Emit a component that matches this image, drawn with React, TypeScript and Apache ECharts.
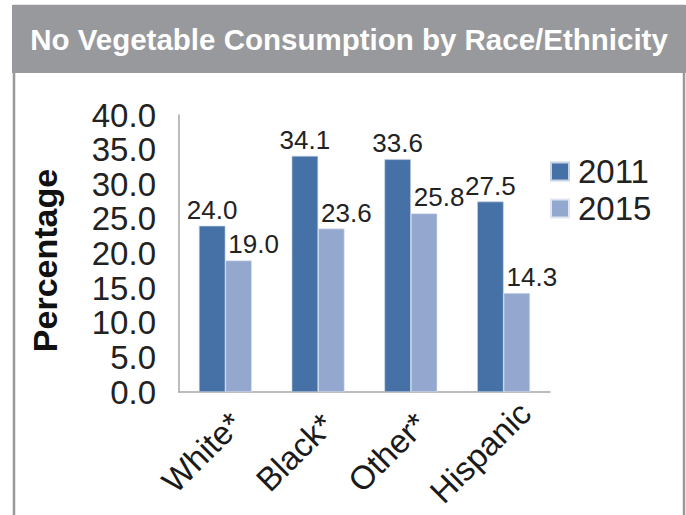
import React, { useEffect, useRef } from "react";
import * as echarts from "echarts";

const categories = ["White*", "Black*", "Other*", "Hispanic"];
const series2011 = [24.0, 34.1, 33.6, 27.5];
const series2015 = [19.0, 23.6, 25.8, 14.3];
const seriesNames = ["2011", "2015"];
const yTicks = { min: 0, max: 40, interval: 5 };

const FONT = "'Liberation Sans', Arial, sans-serif";
const FRAME_GRAY = "#98999c";

export default function App() {
  const ref = useRef<HTMLDivElement>(null);

  useEffect(() => {
    document.body.style.margin = "0";
    if (!ref.current) return;
    const chart = echarts.init(ref.current, null, { renderer: "svg" });

    const labelStyle = (offsetX: number) => ({
      show: true,
      position: "top" as const,
      distance: 3,
      offset: [offsetX, 0],
      fontFamily: FONT,
      fontSize: 26,
      color: "#222",
      formatter: (p: any) => Number(p.value).toFixed(1),
    });

    chart.setOption({
      animation: false,
      backgroundColor: "#ffffff",
      textStyle: { fontFamily: FONT },
      graphic: [
        {
          type: "rect",
          shape: { x: 14, y: 6, width: 670, height: 520 },
          style: { fill: "#ffffff", stroke: FRAME_GRAY, lineWidth: 2.5 },
          z: -10,
        },
        {
          type: "rect",
          shape: { x: 12, y: 5, width: 674, height: 68 },
          style: { fill: FRAME_GRAY },
          z: -9,
        },
        {
          type: "text",
          x: 349,
          y: 39,
          style: {
            text: "No Vegetable Consumption by Race/Ethnicity",
            fill: "#ffffff",
            font: `bold 29.5px ${FONT}`,
            align: "center",
            verticalAlign: "middle",
          },
          z: 5,
        },
      ],
      grid: {
        left: 179,
        right: 136,
        top: 115,
        bottom: 123,
        containLabel: false,
        outerBoundsMode: "none",
      },
      legend: {
        data: seriesNames,
        orient: "vertical",
        left: 550,
        top: 155,
        padding: 0,
        icon: "rect",
        itemWidth: 18,
        itemHeight: 18,
        itemGap: 4,
        textStyle: { fontFamily: FONT, fontSize: 33, color: "#222", padding: [0, 0, 0, 4] },
      },
      xAxis: {
        type: "category",
        data: categories,
        axisLine: { lineStyle: { color: "#a6a6a6", width: 1.5 } },
        axisTick: { show: false },
        axisLabel: {
          rotate: 45,
          align: "center",
          verticalAlign: "middle",
          padding: [0, 66, 0, 0],
          margin: 37,
          fontFamily: FONT,
          fontSize: 33,
          color: "#1a1a1a",
          interval: 0,
        },
      },
      yAxis: {
        type: "value",
        min: yTicks.min,
        max: yTicks.max,
        interval: yTicks.interval,
        name: "Percentage",
        nameLocation: "middle",
        nameGap: 117,
        nameTextStyle: {
          fontFamily: FONT,
          fontSize: 34,
          fontWeight: "bold",
          color: "#111",
          padding: [0, 14, 0, 0],
        },
        axisLine: { show: true, lineStyle: { color: "#a6a6a6", width: 1.5 } },
        axisTick: { show: false },
        splitLine: { show: false },
        axisLabel: {
          margin: 23,
          fontFamily: FONT,
          fontSize: 33,
          color: "#222",
          formatter: (v: number) => v.toFixed(1),
        },
      },
      series: [
        {
          name: seriesNames[0],
          type: "bar",
          data: series2011,
          barGap: "0%",
          barCategoryGap: "43%",
          itemStyle: { color: "#4571a6", borderColor: "#c8d3e6", borderWidth: 0.6 },
          label: labelStyle(0),
        },
        {
          name: seriesNames[1],
          type: "bar",
          data: series2015,
          itemStyle: { color: "#94a8cf", borderColor: "#dfe5f1", borderWidth: 0.6 },
          label: labelStyle(15),
        },
      ],
    });

    return () => chart.dispose();
  }, []);

  return <div ref={ref} style={{ width: 686, height: 515 }} />;
}
